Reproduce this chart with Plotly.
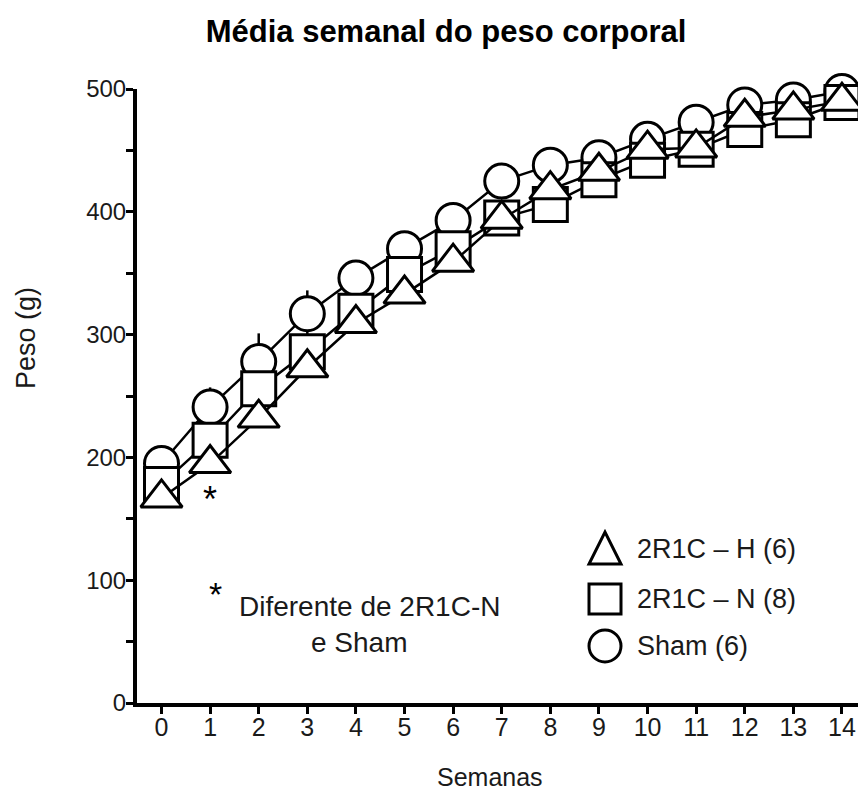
import plotly.graph_objects as go

# Weekly mean body weight (g) per group
semanas = list(range(15))
sham = [195, 241, 278, 317, 346, 370, 393, 425, 438, 444, 459, 473, 487, 491, 498]
sham_epm = [10, 16, 23, 19, 12, 10, 10, 10, 10, 10, 10, 10, 10, 10, 10]
n_2r1c = [178, 214, 256, 286, 319, 349, 370, 395, 406, 426, 442, 451, 467, 475, 489]
h_2r1c = [167, 195, 232, 273, 309, 333, 359, 394, 418, 433, 451, 452, 477, 483, 490]

y_ticks = list(range(0, 501, 50))
y_ticktext = [str(v) if v % 100 == 0 else "" for v in y_ticks]

FONT = "Liberation Sans, Arial, sans-serif"
TEXT = "#1a1a1a"
W, H = 858, 794
L, R, T, B = 137, 0, 89, 91

fig = go.Figure()

marker_line = dict(color="black", width=3)

fig.add_trace(go.Scatter(
    x=semanas, y=sham, mode="lines+markers", name="Sham (6)",
    line=dict(color="black", width=2.5),
    marker=dict(symbol="circle", size=34, color="white", line=marker_line),
    error_y=dict(type="data", array=sham_epm, color="black", thickness=2.5, width=0),
    cliponaxis=False, showlegend=False,
))
fig.add_trace(go.Scatter(
    x=semanas, y=n_2r1c, mode="lines+markers", name="2R1C – N (8)",
    line=dict(color="black", width=2.5),
    marker=dict(symbol="square", size=34, color="white", line=marker_line),
    cliponaxis=False, showlegend=False,
))
fig.add_trace(go.Scatter(
    x=semanas, y=h_2r1c, mode="lines+markers", name="2R1C – H (6)",
    line=dict(color="black", width=2.5),
    marker=dict(symbol="triangle-up", size=36, color="white", line=marker_line),
    cliponaxis=False, showlegend=False,
))

plot_w = W - L - R
plot_h = H - T - B


def px(xp):
    return (xp - L) / plot_w


def py(yp):
    return (H - B - yp) / plot_h


# Key: symbols drawn as pixel-sized shapes next to their labels
legend_items = [
    ("triangle", "2R1C – H (6)", 549),
    ("square", "2R1C – N (8)", 599),
    ("circle", "Sham (6)", 646),
]
shapes = []
annotations = []
for kind, label, yc in legend_items:
    common = dict(xref="paper", yref="paper", xsizemode="pixel", ysizemode="pixel",
                  xanchor=px(605), yanchor=py(yc),
                  line=dict(color="black", width=3), fillcolor="white")
    if kind == "triangle":
        shapes.append(dict(type="path", path="M-16,-15 L16,-15 L0,17 Z", **common))
    elif kind == "square":
        shapes.append(dict(type="rect", x0=-16, x1=16, y0=-15, y1=15, **common))
    else:
        shapes.append(dict(type="circle", x0=-16, x1=16, y0=-16, y1=16, **common))
    annotations.append(dict(
        xref="paper", yref="paper", x=px(635), y=py(yc), xanchor="left", yanchor="middle",
        text=label, showarrow=False, font=dict(family=FONT, size=27, color=TEXT),
    ))

# Significance marker under week 1
annotations.append(dict(
    xref="x", yref="y", x=1, y=h_2r1c[1], yshift=-36, text="*", showarrow=False,
    xanchor="center", yanchor="middle", font=dict(family=FONT, size=36, color="black"),
))
# Footnote
annotations.append(dict(
    xref="paper", yref="paper", x=px(215), y=py(594), text="*", showarrow=False,
    xanchor="center", yanchor="middle", font=dict(family=FONT, size=34, color="black"),
))
annotations.append(dict(
    xref="paper", yref="paper", x=px(369), y=py(606), text="Diferente de 2R1C-N",
    showarrow=False, xanchor="center", yanchor="middle",
    font=dict(family=FONT, size=28, color=TEXT),
))
annotations.append(dict(
    xref="paper", yref="paper", x=px(359), y=py(642), text="e Sham",
    showarrow=False, xanchor="center", yanchor="middle",
    font=dict(family=FONT, size=28, color=TEXT),
))
# Axis titles
annotations.append(dict(
    xref="paper", yref="paper", x=px(26), y=py(338), text="Peso (g)", textangle=-90,
    showarrow=False, xanchor="center", yanchor="middle",
    font=dict(family=FONT, size=27, color=TEXT),
))
annotations.append(dict(
    xref="paper", yref="paper", x=px(490), y=py(777), text="Semanas",
    showarrow=False, xanchor="center", yanchor="middle",
    font=dict(family=FONT, size=25, color=TEXT),
))

fig.update_layout(
    width=W, height=H,
    margin=dict(l=L, r=R, t=T, b=B, pad=0),
    paper_bgcolor="white", plot_bgcolor="white",
    title=dict(text="<b>Média semanal do peso corporal</b>", x=446 / W, xanchor="center",
               xref="container", y=1 - 31 / H, yref="container", yanchor="middle",
               font=dict(family=FONT, size=31, color="black")),
    xaxis=dict(range=[-0.504, 14.33], tickvals=semanas, ticktext=[str(s) for s in semanas],
               showline=True, linecolor="black", linewidth=4, ticks="outside",
               ticklen=7, tickwidth=3, tickcolor="black", showgrid=False, zeroline=False,
               ticklabelstandoff=-8,
               tickfont=dict(family=FONT, size=25, color=TEXT)),
    yaxis=dict(range=[0, 500], tickvals=y_ticks, ticktext=y_ticktext,
               showline=True, linecolor="black", linewidth=4, ticks="outside",
               ticklen=7, tickwidth=3, tickcolor="black", showgrid=False, zeroline=False,
               ticklabelstandoff=-5,
               tickfont=dict(family=FONT, size=24, color=TEXT)),
    shapes=shapes,
    annotations=annotations,
)

fig.write_html("out.html")
